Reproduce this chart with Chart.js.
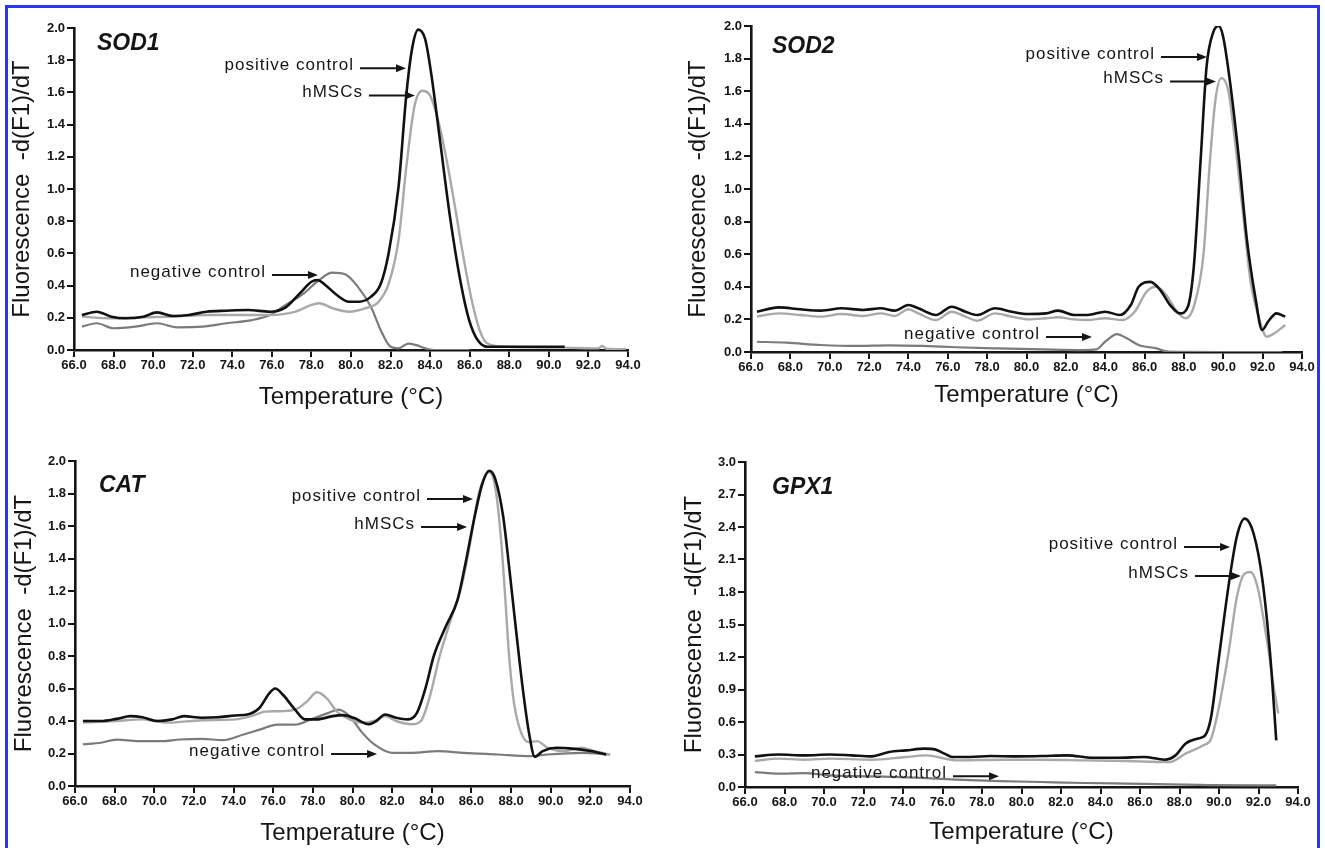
<!DOCTYPE html>
<html>
<head>
<meta charset="utf-8">
<script src="https://cdn.jsdelivr.net/npm/chart.js@4.4.0/dist/chart.umd.min.js"></script>
<style>
  html, body { margin: 0; padding: 0; background: #fff; }
  #page { position: relative; width: 1325px; height: 848px; overflow: hidden; background: #fff; }
  .panel { position: absolute; }
  #frame { position: absolute; left: 5px; top: 5px; width: 1315px; height: 870px; border: 3px solid #2b35f5; box-sizing: border-box; pointer-events: none; }
</style>
</head>
<body>
<div id="page">
  <div class="panel" style="left:0;top:0"><canvas id="sod1" width="660" height="424"></canvas></div>
  <div class="panel" style="left:660px;top:0"><canvas id="sod2" width="665" height="424"></canvas></div>
  <div class="panel" style="left:0;top:424px"><canvas id="cat" width="660" height="424"></canvas></div>
  <div class="panel" style="left:660px;top:424px"><canvas id="gpx1" width="665" height="424"></canvas></div>
  <div id="frame"></div>
</div>
<script>
// melt curves: temperature (°C) and -d(F1)/dT
const sod1PosT = [66.4,67.15,67.9,68.6,69.5,70.2,71.0,71.8,72.7,73.7,74.8,75.9,76.7,77.4,78.0,78.3,78.7,79.3,79.9,80.4,81.0,81.5,81.9,82.4,82.8,83.1,83.4,83.75,84.05,84.5,85.0,85.55,85.97,86.4,86.9,88.0,90.8];
const sod1PosY = [0.217,0.238,0.207,0.197,0.207,0.234,0.211,0.217,0.238,0.244,0.248,0.238,0.265,0.35,0.424,0.435,0.404,0.34,0.30,0.30,0.33,0.41,0.60,1.01,1.59,1.88,1.99,1.93,1.72,1.30,0.83,0.414,0.186,0.062,0.02,0.02,0.02];
const sod1HmT = [66.4,67.9,69.5,71.0,72.7,74.2,75.9,77.2,78.0,78.4,79.05,79.9,80.75,81.4,81.9,82.4,82.8,83.2,83.6,83.95,84.4,84.8,85.2,85.65,86.1,86.5,86.9,87.8,90.8,92.5,92.7,92.9,93.9];
const sod1HmY = [0.207,0.197,0.203,0.207,0.217,0.217,0.217,0.238,0.28,0.29,0.26,0.238,0.26,0.30,0.41,0.68,1.14,1.51,1.61,1.59,1.43,1.20,0.93,0.60,0.31,0.124,0.04,0.02,0.015,0.01,0.025,0.008,0.005];
const sod1NegT = [66.4,67.15,68.0,69.1,70.2,71.2,72.5,73.7,75.0,75.9,76.7,77.6,78.4,79.05,79.7,80.3,81.0,81.5,82.0,82.4,82.9,83.3,83.75,84.2,86.0];
const sod1NegY = [0.145,0.166,0.135,0.145,0.166,0.141,0.145,0.166,0.186,0.217,0.28,0.35,0.435,0.48,0.47,0.40,0.27,0.124,0.02,0.01,0.04,0.03,0.01,0.0,0.0];

const sod2PosT = [66.3,67.4,68.5,69.55,70.6,71.7,72.6,73.3,74.0,74.5,75.4,76.2,76.9,77.5,78.4,79.25,80.1,81.0,81.6,82.4,83.1,84.0,84.75,85.3,85.7,86.3,86.8,87.3,87.8,88.2,88.5,88.85,89.15,89.5,89.77,90.0,90.35,90.8,91.2,91.65,91.97,92.3,92.7,93.15];
const sod2PosY = [0.247,0.274,0.262,0.254,0.268,0.258,0.268,0.254,0.288,0.268,0.227,0.278,0.247,0.227,0.268,0.247,0.233,0.237,0.254,0.227,0.227,0.247,0.227,0.288,0.40,0.43,0.38,0.288,0.237,0.278,0.52,1.18,1.75,1.965,2.0,1.93,1.65,1.18,0.69,0.32,0.135,0.19,0.237,0.217];
const sod2HmT = [66.3,67.4,68.5,69.55,70.6,71.7,72.6,73.3,74.0,74.5,75.4,76.2,76.9,77.5,78.4,79.25,80.1,81.0,81.6,82.4,83.1,84.0,84.85,85.5,86.1,86.6,87.1,87.65,88.1,88.5,89.0,89.3,89.6,89.9,90.25,90.55,91.0,91.4,91.85,92.2,92.6,93.15];
const sod2HmY = [0.217,0.237,0.227,0.217,0.233,0.221,0.237,0.221,0.262,0.237,0.196,0.247,0.217,0.192,0.237,0.217,0.200,0.207,0.213,0.200,0.196,0.207,0.196,0.247,0.37,0.40,0.35,0.247,0.207,0.278,0.605,1.137,1.546,1.68,1.607,1.34,0.85,0.42,0.196,0.094,0.115,0.166];
const sod2NegT = [66.3,67.8,69.55,71.3,73.0,74.7,76.45,78.6,80.8,82.9,83.55,84.0,84.6,85.1,85.7,86.6,87.2,90.0,93.0];
const sod2NegY = [0.063,0.057,0.043,0.037,0.041,0.037,0.029,0.022,0.016,0.012,0.016,0.063,0.11,0.084,0.043,0.022,0.002,0.0,0.0];

const catPosT = [66.4,67.3,68.1,68.8,69.4,70.15,70.9,71.5,72.4,73.2,74.1,74.7,75.3,75.8,76.1,76.5,77.1,77.6,78.2,79.0,79.5,80.05,80.8,81.2,81.65,82.2,82.8,83.25,83.7,84.1,84.7,85.3,85.7,86.1,86.55,86.9,87.2,87.6,87.9,88.25,88.6,88.9,89.2,89.6,90.3,91.1,92.0,92.8];
const catPosY = [0.40,0.40,0.413,0.43,0.423,0.40,0.41,0.43,0.42,0.423,0.434,0.44,0.48,0.57,0.60,0.56,0.47,0.41,0.41,0.43,0.436,0.42,0.38,0.40,0.44,0.42,0.41,0.45,0.61,0.80,0.98,1.145,1.37,1.62,1.86,1.94,1.89,1.66,1.35,0.96,0.59,0.33,0.18,0.215,0.235,0.23,0.215,0.194];
const catHmT = [66.4,68.1,69.4,70.7,72.4,74.1,74.9,75.6,76.2,77.1,77.7,78.2,78.7,79.2,79.85,80.5,81.1,81.65,82.2,83.0,83.45,83.9,84.4,84.95,85.5,85.9,86.3,86.65,86.9,87.2,87.5,87.7,87.9,88.15,88.5,88.9,89.3,89.85,90.7,91.55,92.2,93.0];
const catHmY = [0.39,0.40,0.41,0.39,0.405,0.41,0.43,0.458,0.46,0.47,0.52,0.577,0.54,0.46,0.41,0.39,0.40,0.43,0.40,0.38,0.40,0.55,0.80,1.02,1.23,1.47,1.76,1.90,1.93,1.84,1.51,1.17,0.80,0.51,0.33,0.27,0.276,0.235,0.215,0.235,0.215,0.194];
const catNegT = [66.4,67.3,68.1,69.2,70.3,71.3,72.4,73.45,74.5,75.4,76.2,77.1,77.9,78.8,79.3,79.85,80.5,81.1,82.0,83.0,84.3,85.6,87.3,89.0,89.85,91.55,93.0];
const catNegY = [0.256,0.266,0.286,0.276,0.276,0.286,0.29,0.282,0.317,0.35,0.378,0.378,0.41,0.45,0.47,0.43,0.327,0.256,0.204,0.204,0.215,0.204,0.194,0.184,0.194,0.204,0.194];

const gpxPosT = [66.5,67.7,69.0,70.3,71.4,72.4,73.3,74.15,75.1,75.65,76.1,76.5,77.4,78.45,79.7,81.0,82.3,83.6,84.9,86.2,87.25,87.8,88.3,88.9,89.3,89.6,90.0,90.5,90.9,91.3,91.75,92.2,92.6,92.9];
const gpxPosY = [0.283,0.30,0.292,0.30,0.292,0.283,0.323,0.338,0.354,0.345,0.308,0.277,0.277,0.286,0.283,0.286,0.292,0.27,0.27,0.277,0.252,0.292,0.40,0.446,0.477,0.646,1.2,1.877,2.31,2.477,2.34,1.91,1.2,0.43];
const gpxHmT = [66.5,67.7,69.0,70.3,72.4,74.15,75.2,76.1,76.7,78.9,81.0,83.2,85.3,87.5,88.3,89.2,89.6,90.0,90.5,90.9,91.3,91.6,91.95,92.4,92.8,93.0];
const gpxHmY = [0.24,0.262,0.252,0.262,0.252,0.277,0.292,0.262,0.246,0.252,0.252,0.246,0.24,0.23,0.308,0.385,0.446,0.74,1.26,1.75,1.97,1.985,1.846,1.385,0.89,0.68];
const gpxNegT = [66.5,67.7,69.0,70.3,72.4,74.6,76.7,78.9,81.0,83.2,85.3,87.5,89.6,92.9];
const gpxNegY = [0.138,0.123,0.129,0.108,0.098,0.086,0.068,0.055,0.046,0.037,0.031,0.025,0.018,0.015];

// arrow tips of the labels, in data units (positive control, hMSCs, negative control)
const noteText = ["positive control", "hMSCs", "negative control"];
const sod1NoteT = [82.78, 83.23, 78.33], sod1NoteY = [1.75, 1.58, 0.466];
const sod2NoteT = [89.17, 89.63, 83.33], sod2NoteY = [1.81, 1.66, 0.092];
const catNoteT = [86.08, 85.78, 81.24], catNoteY = [1.766, 1.594, 0.197];
const gpxNoteT = [90.56, 91.11, 78.86], gpxNoteY = [2.216, 1.948, 0.10];

const xTickMin = 66, xTickMax = 94, xTickStep = 2;

const ink = "#151515";
const probe = document.createElement("canvas").getContext("2d");
function textW(font, s) { probe.font = font; return probe.measureText(s).width; }
const hasNarrow = Math.abs(textW('bold 20px "Liberation Sans Narrow", monospace', "66.0") - textW("bold 20px monospace", "66.0")) > 0.5;
const tickFont = hasNarrow
  ? { family: '"Liberation Sans Narrow", "Liberation Sans", Arial, sans-serif', size: 15, weight: "bold" }
  : { family: '"Liberation Sans", Arial, sans-serif', size: 13, weight: "bold" };

function pts(ts, ys) { return ts.map((t, i) => ({ x: t, y: ys[i] })); }

function line(data, color, w) {
  return { data, borderColor: color, borderWidth: w, pointRadius: 0, fill: false, cubicInterpolationMode: "monotone" };
}

const notesPlugin = {
  id: "meltNotes",
  afterDatasetsDraw(chart, args, opts) {
    const { ctx, chartArea, scales: { x, y } } = chart;
    ctx.save();
    ctx.fillStyle = ink;
    ctx.strokeStyle = ink;
    ctx.font = '17px "Liberation Sans", Arial, sans-serif';
    if ("letterSpacing" in ctx) ctx.letterSpacing = "1px";
    ctx.textAlign = "right";
    ctx.textBaseline = "middle";
    opts.t.forEach((t, i) => {
      const px = x.getPixelForValue(t), py = y.getPixelForValue(opts.v[i]);
      const x0 = px - 46;
      ctx.lineWidth = 2;
      ctx.beginPath(); ctx.moveTo(x0, py); ctx.lineTo(px - 7, py); ctx.stroke();
      ctx.beginPath(); ctx.moveTo(px, py); ctx.lineTo(px - 10, py - 4); ctx.lineTo(px - 10, py + 4); ctx.closePath(); ctx.fill();
      ctx.fillText(noteText[i], x0 - 6, py - 3);
    });
    if ("letterSpacing" in ctx) ctx.letterSpacing = "0px";
    ctx.textAlign = "left";
    ctx.textBaseline = "alphabetic";
    ctx.font = 'italic bold 23px "Liberation Sans", Arial, sans-serif';
    ctx.fillText(opts.label, chartArea.left + opts.dx, chartArea.top + opts.dy);
    ctx.restore();
  }
};

function makeChart(id, p) {
  return new Chart(document.getElementById(id), {
    type: "line",
    data: {
      datasets: [
        line(pts(p.pos[0], p.pos[1]), "#111111", 2.6),
        line(pts(p.hm[0], p.hm[1]), "#a9a9a9", 2.4),
        line(pts(p.neg[0], p.neg[1]), "#7b7b7b", 2.2)
      ]
    },
    options: {
      responsive: false,
      animation: false,
      layout: { padding: p.pad },
      plugins: {
        legend: { display: false },
        tooltip: { enabled: false },
        meltNotes: { t: p.noteT, v: p.noteY, label: p.label, dx: p.labelDx, dy: p.labelDy }
      },
      scales: {
        x: {
          type: "linear", min: xTickMin, max: xTickMax,
          afterFit(s) { s.height = p.xh; },
          ticks: { stepSize: xTickStep, autoSkip: false, maxRotation: 0, padding: 1, color: ink, font: tickFont,
                   callback: v => v.toFixed(1) },
          grid: { drawOnChartArea: false, tickLength: 7, color: ink, lineWidth: 2 },
          border: { color: ink, width: 2.6 },
          title: { display: true, text: "Temperature (°C)", color: ink,
                   font: { family: '"Liberation Sans", Arial, sans-serif', size: 24 },
                   padding: { top: 0, bottom: p.xtb } }
        },
        y: {
          min: 0, max: p.ymax,
          afterFit(s) { s.width = p.yw; },
          ticks: { stepSize: p.ystep, padding: 2, color: ink, font: tickFont, callback: v => v.toFixed(1) },
          grid: { drawOnChartArea: false, tickLength: 7, color: ink, lineWidth: 2 },
          border: { color: ink, width: 2.6 },
          title: { display: true, text: "Fluorescence  -d(F1)/dT", color: ink,
                   font: { family: '"Liberation Sans", Arial, sans-serif', size: 24 },
                   padding: { top: p.ytp, bottom: 0 } }
        }
      }
    },
    plugins: [notesPlugin]
  });
}

makeChart("sod1", {
  pos: [sod1PosT, sod1PosY], hm: [sod1HmT, sod1HmY], neg: [sod1NegT, sod1NegY],
  noteT: sod1NoteT, noteY: sod1NoteY, label: "SOD1", labelDx: 23, labelDy: 22,
  ymax: 2.0, ystep: 0.2, pad: { left: 0, right: 32, top: 28, bottom: 0 }, yw: 74, xh: 74, xtb: 12, ytp: 8
});
makeChart("sod2", {
  pos: [sod2PosT, sod2PosY], hm: [sod2HmT, sod2HmY], neg: [sod2NegT, sod2NegY],
  noteT: sod2NoteT, noteY: sod2NoteY, label: "SOD2", labelDx: 21, labelDy: 27,
  ymax: 2.0, ystep: 0.2, pad: { left: 0, right: 23, top: 26, bottom: 0 }, yw: 91, xh: 72, xtb: 14, ytp: 24
});
makeChart("cat", {
  pos: [catPosT, catPosY], hm: [catHmT, catHmY], neg: [catNegT, catNegY],
  noteT: catNoteT, noteY: catNoteY, label: "CAT", labelDx: 24, labelDy: 31,
  ymax: 2.0, ystep: 0.2, pad: { left: 0, right: 30, top: 37, bottom: 0 }, yw: 75, xh: 62, xtb: 0, ytp: 10
});
makeChart("gpx1", {
  pos: [gpxPosT, gpxPosY], hm: [gpxHmT, gpxHmY], neg: [gpxNegT, gpxNegY],
  noteT: gpxNoteT, noteY: gpxNoteY, label: "GPX1", labelDx: 27, labelDy: 32,
  ymax: 3.0, ystep: 0.3, pad: { left: 0, right: 27, top: 38, bottom: 0 }, yw: 85, xh: 61, xtb: 1, ytp: 20
});
</script>
</body>
</html>
